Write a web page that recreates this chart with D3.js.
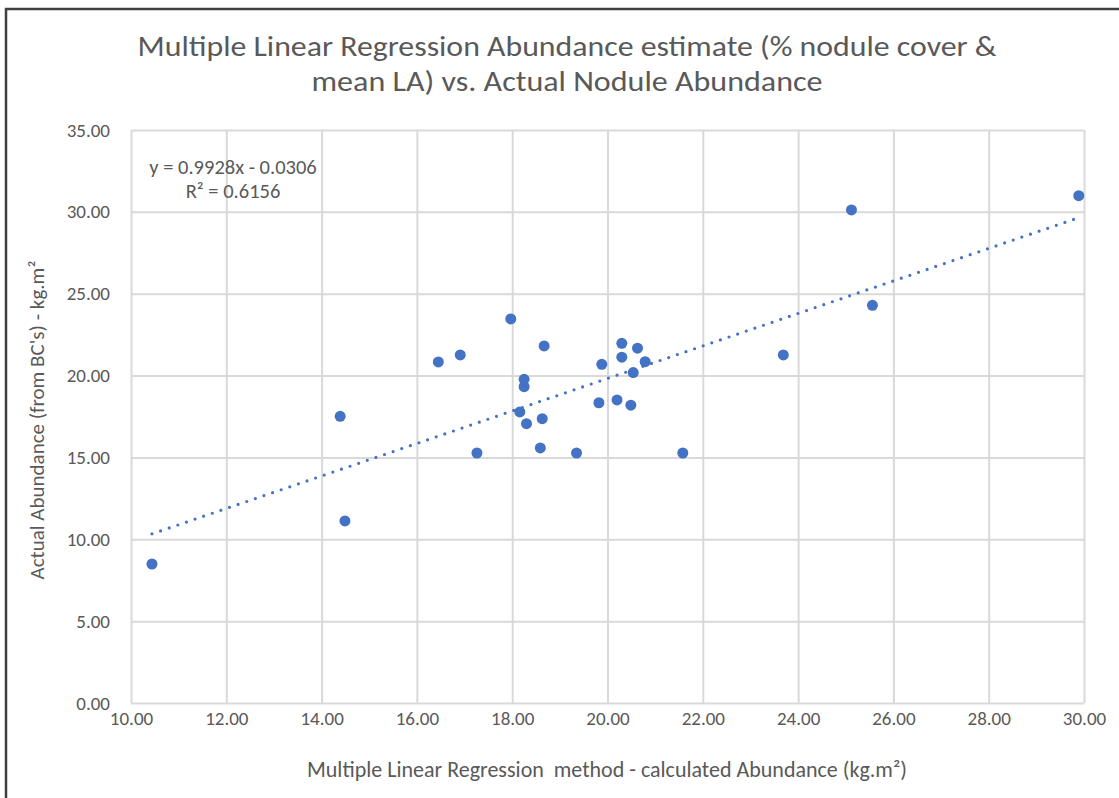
<!DOCTYPE html>
<html>
<head>
<meta charset="utf-8">
<script src="https://cdn.jsdelivr.net/npm/d3@7"></script>
<style>
  body { margin: 0; background: #fff; }
  text { font-family: Carlito, Calibri, Lato, sans-serif; fill: #595959; }
</style>
</head>
<body>
<div id="chart"></div>
<script>
var calcAbundance = [10.44, 14.39, 14.49, 16.45, 16.91, 17.26, 17.97, 18.16, 18.25, 18.25,
    18.30, 18.59, 18.63, 18.67, 19.35, 19.82, 19.88, 20.20, 20.30, 20.30,
    20.49, 20.54, 20.63, 20.79, 21.58, 23.69, 25.12, 25.56, 29.89];
var actualAbundance = [8.49, 17.51, 11.12, 20.83, 21.26, 15.27, 23.46, 17.78, 19.77, 19.32,
    17.06, 15.58, 17.37, 21.81, 15.27, 18.34, 20.69, 18.51, 21.97, 21.12,
    18.19, 20.18, 21.67, 20.85, 15.27, 21.26, 30.12, 24.29, 30.99];
var trendCoef = [0.9928, -0.0306];   // slope, intercept
var xTicks = [10, 12, 14, 16, 18, 20, 22, 24, 26, 28, 30];
var yTicks = [0, 5, 10, 15, 20, 25, 30, 35];
var titleLines = ["Multiple Linear Regression Abundance estimate (% nodule cover &",
    "mean LA) vs. Actual Nodule Abundance"];
var titleWidths = [859, 511];

var W = 1119, H = 798;
var margin = { top: 130, right: 35, bottom: 95, left: 131 },
    width = W - margin.left - margin.right,
    height = H - margin.top - margin.bottom;

var svg = d3.select("#chart")
    .append("svg")
    .attr("width", W)
    .attr("height", H);

// chart frame
svg.append("rect")
    .attr("x", 6).attr("y", 9)
    .attr("width", W + 20).attr("height", H + 20)
    .attr("fill", "none")
    .attr("stroke", "#404040")
    .attr("stroke-width", 2.5);

var g = svg.append("g")
    .attr("transform", "translate(" + margin.left + "," + margin.top + ")");

var x = d3.scaleLinear().domain([10, 30]).range([0, width]);
var y = d3.scaleLinear().domain([0, 35]).range([height, 0]);

// gridlines
g.append("g")
    .attr("class", "grid")
    .attr("transform", "translate(0," + height + ")")
    .call(d3.axisBottom(x).tickValues(xTicks).tickSize(-height).tickFormat(""))
    .call(function (s) { s.select(".domain").remove(); });

g.append("g")
    .attr("class", "grid")
    .call(d3.axisLeft(y).tickValues(yTicks).tickSize(-width).tickFormat(""))
    .call(function (s) { s.select(".domain").remove(); });

g.selectAll(".grid line")
    .attr("stroke", "#d9d9d9")
    .attr("stroke-width", 2);

// tick labels
var xAxis = g.append("g")
    .attr("transform", "translate(0," + height + ")")
    .call(d3.axisBottom(x).tickValues(xTicks).tickSize(0).tickPadding(9).tickFormat(d3.format(".2f")));
xAxis.select(".domain").remove();

var yAxis = g.append("g")
    .call(d3.axisLeft(y).tickValues(yTicks).tickSize(0).tickPadding(21).tickFormat(d3.format(".2f")));
yAxis.select(".domain").remove();

g.selectAll(".tick text")
    .attr("fill", "#595959")
    .style("font-size", "19px");

// trendline
var xExtent = d3.extent(calcAbundance);
g.append("line")
    .attr("x1", x(xExtent[0]))
    .attr("y1", y(trendCoef[0] * xExtent[0] + trendCoef[1]))
    .attr("x2", x(xExtent[1]))
    .attr("y2", y(trendCoef[0] * xExtent[1] + trendCoef[1]))
    .attr("stroke", "#4472c4")
    .attr("stroke-width", 3.2)
    .attr("stroke-linecap", "round")
    .attr("stroke-dasharray", "0 9.1");

// points
g.selectAll("circle")
    .data(calcAbundance)
    .enter()
    .append("circle")
    .attr("cx", function (d) { return x(d); })
    .attr("cy", function (d, i) { return y(actualAbundance[i]); })
    .attr("r", 5.5)
    .attr("fill", "#4472c4");

// equation
var eq = g.append("text")
    .attr("x", 102)
    .attr("y", 44)
    .style("text-anchor", "middle")
    .style("font-size", "20.5px");
eq.append("tspan").attr("x", 102).attr("dy", 0).text("y = 0.9928x - 0.0306");
eq.append("tspan").attr("x", 102).attr("dy", 24).text("R² = 0.6156");

// title
svg.selectAll(".title")
    .data(titleLines)
    .enter()
    .append("text")
    .attr("class", "title")
    .attr("x", 567)
    .attr("y", function (d, i) { return 56 + i * 35; })
    .attr("textLength", function (d, i) { return titleWidths[i]; })
    .attr("lengthAdjust", "spacingAndGlyphs")
    .style("text-anchor", "middle")
    .style("font-size", "28.5px")
    .text(function (d) { return d; });

// axis titles
svg.append("text")
    .attr("x", 607)
    .attr("y", 777)
    .style("text-anchor", "middle")
    .style("font-size", "22px")
    .style("white-space", "pre")
    .text("Multiple Linear Regression  method - calculated Abundance (kg.m²)");

svg.append("text")
    .attr("transform", "translate(44,420) rotate(-90)")
    .style("text-anchor", "middle")
    .style("font-size", "21px")
    .text("Actual Abundance (from BC's) - kg.m²");
</script>
</body>
</html>
